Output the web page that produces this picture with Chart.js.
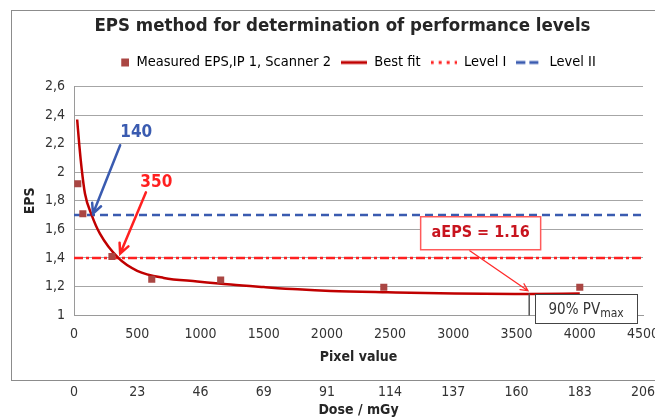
<!DOCTYPE html>
<html>
<head>
<meta charset="utf-8">
<script src="https://cdn.jsdelivr.net/npm/chart.js@4.4.1/dist/chart.umd.min.js"></script>
<style>
  html, body { margin: 0; padding: 0; background: #fff; }
</style>
</head>
<body>
<canvas id="epsChart" width="655" height="420"></canvas>
<script>
// values
const pixelTicks = [0, 500, 1000, 1500, 2000, 2500, 3000, 3500, 4000, 4500];
const doseLabels = ["0", "23", "46", "69", "91", "114", "137", "160", "183", "206"];
const epsTicks = [1, 1.2, 1.4, 1.6, 1.8, 2, 2.2, 2.4, 2.6];

const measuredPV = [30, 70, 300, 615, 1160, 2450, 4000];
const measuredEPS = [1.92, 1.71, 1.41, 1.25, 1.245, 1.195, 1.195];

const fitPV = [25, 42, 60, 87, 140, 205, 350, 500, 710, 975, 1240, 1500, 1770, 2030, 2480, 3010, 3600, 4000];
const fitEPS = [2.37, 2.19, 2.03, 1.85, 1.70, 1.57, 1.40, 1.31, 1.26, 1.235, 1.213, 1.196, 1.18, 1.169, 1.159, 1.15, 1.148, 1.15];

const levelI = 1.4;
const levelII = 1.7;
const levelSpan = [0, 4500];

// callouts, in data units (pixel value, EPS)
const callTexts = ["140", "350"];
const callTextAt = [[492, 2.28], [651, 1.93]];
const callTails = [[365, 2.19], [569, 1.86]];
const callTips = [[150, 1.71], [365, 1.43]];
const callColors = ["#3a5bb0", "#ff2020"];

const aepsText = "aEPS = 1.16";
const aepsBoxAt = [3216, 1.573];
const aepsTail = [3130, 1.45];
const aepsTip = [3590, 1.17];
const pvMaxAt = 3600;
const pvMaxEPS = 1.148;
const pvBoxAt = [4050, 1.044];

const FONT = "'DejaVu Sans Condensed', 'DejaVu Sans', sans-serif";
Chart.defaults.font.family = FONT;
Chart.defaults.color = "#333";

const pts = (xs, ys) => xs.map((x, i) => ({ x, y: ys[i] }));

function legendIcon(kind, color) {
  const c = document.createElement("canvas");
  c.width = 26;
  c.height = 10;
  const g = c.getContext("2d");
  if (kind === "square") {
    g.fillStyle = color;
    g.fillRect(18, 1, 8, 8);
  } else {
    g.strokeStyle = color;
    g.lineWidth = 3;
    if (kind === "dot") g.setLineDash([3, 5]);
    if (kind === "dash") g.setLineDash([9, 4]);
    g.beginPath();
    g.moveTo(0, 5);
    g.lineTo(26, 5);
    g.stroke();
  }
  return c;
}

const icons = [
  legendIcon("square", "#aa4643"),
  legendIcon("line", "#c00000"),
  legendIcon("dot", "#ff2020"),
  legendIcon("dash", "#3a5bb0")
];

const framePlugin = {
  id: "frame",
  afterLayout(chart) {
    // the original frame is wider than the picture, so title and legend sit right of centre
    const t = chart.titleBlock;
    t.left += 15;
    t.right += 15;
    const l = chart.legend;
    l.left += 22;
    l.right += 22;
  },
  beforeDraw(chart) {
    const c = chart.ctx;
    const bottom = chart.scales.x.bottom;
    c.save();
    c.fillStyle = "#fff";
    c.fillRect(0, 0, chart.width, chart.height);
    c.strokeStyle = "#8c8c8c";
    c.lineWidth = 1;
    c.strokeRect(11.5, 10.5, chart.width + 20, Math.round(bottom) - 10);
    c.restore();
  }
};

function arrow(c, x1, y1, x2, y2, color, w, head) {
  const a = Math.atan2(y2 - y1, x2 - x1);
  c.strokeStyle = color;
  c.lineWidth = w;
  c.lineCap = "round";
  c.beginPath();
  c.moveTo(x1, y1);
  c.lineTo(x2, y2);
  c.moveTo(x2 - head * Math.cos(a - 0.45), y2 - head * Math.sin(a - 0.45));
  c.lineTo(x2, y2);
  c.lineTo(x2 - head * Math.cos(a + 0.45), y2 - head * Math.sin(a + 0.45));
  c.stroke();
}

const notesPlugin = {
  id: "notes",
  afterDraw(chart) {
    const c = chart.ctx;
    const xs = chart.scales.x, ys = chart.scales.y;
    const px = v => xs.getPixelForValue(v);
    const py = v => ys.getPixelForValue(v);
    c.save();

    callTexts.forEach((t, i) => {
      arrow(c, px(callTails[i][0]), py(callTails[i][1]), px(callTips[i][0]), py(callTips[i][1]), callColors[i], 2.5, 11);
      c.fillStyle = callColors[i];
      c.font = "bold 17px " + FONT;
      c.textAlign = "center";
      c.textBaseline = "middle";
      c.fillText(t, px(callTextAt[i][0]), py(callTextAt[i][1]));
    });

    // 90% PVmax marker
    c.strokeStyle = "#555";
    c.lineWidth = 1.5;
    c.beginPath();
    c.moveTo(px(pvMaxAt), py(pvMaxEPS));
    c.lineTo(px(pvMaxAt), py(1));
    c.stroke();

    const bx = px(pvBoxAt[0]), by = py(pvBoxAt[1]);
    c.fillStyle = "#fff";
    c.fillRect(bx - 51, by - 14.5, 102, 29);
    c.strokeStyle = "#444";
    c.lineWidth = 1;
    c.strokeRect(Math.round(bx - 51) + 0.5, Math.round(by - 14.5) + 0.5, 102, 29);
    c.fillStyle = "#333";
    c.textBaseline = "alphabetic";
    c.textAlign = "left";
    const main = "90% PV";
    c.font = "15px " + FONT;
    const w1 = c.measureText(main).width;
    c.font = "12px " + FONT;
    const w2 = c.measureText("max").width;
    const sx = bx - (w1 + w2) / 2;
    c.font = "15px " + FONT;
    c.fillText(main, sx, by + 5);
    c.font = "12px " + FONT;
    c.fillText("max", sx + w1, by + 8);

    // aEPS callout
    arrow(c, px(aepsTail[0]), py(aepsTail[1]), px(aepsTip[0]), py(aepsTip[1]), "#ff2a2a", 1.3, 8);
    const ax = px(aepsBoxAt[0]), ay = py(aepsBoxAt[1]);
    c.fillStyle = "#fff";
    c.fillRect(ax - 60, ay - 16.5, 120, 33);
    c.strokeStyle = "#ff5a5a";
    c.lineWidth = 1.5;
    c.strokeRect(ax - 60, ay - 16.5, 120, 33);
    c.fillStyle = "#c8141e";
    c.font = "bold 16px " + FONT;
    c.textAlign = "center";
    c.textBaseline = "middle";
    c.fillText(aepsText, ax, ay);

    c.restore();
  }
};

const setTicks = list => scale => { scale.ticks = list.map(v => ({ value: v })); };

const chart = new Chart(document.getElementById("epsChart"), {
  type: "scatter",
  data: {
    datasets: [
      {
        label: "Measured EPS,IP 1, Scanner 2",
        data: pts(measuredPV, measuredEPS),
        pointStyle: "rect",
        pointRadius: 5,
        backgroundColor: "#aa4643",
        borderColor: "#aa4643",
        borderWidth: 0,
        showLine: false,
        order: 0
      },
      {
        label: "Best fit",
        type: "line",
        data: pts(fitPV, fitEPS),
        borderColor: "#c00000",
        borderWidth: 2.5,
        pointRadius: 0,
        cubicInterpolationMode: "monotone",
        fill: false,
        order: 1
      },
      {
        label: "Level I",
        type: "line",
        data: levelSpan.map(x => ({ x, y: levelI })),
        borderColor: "#ff2020",
        borderWidth: 2.5,
        borderDash: [9, 3, 3, 3],
        pointRadius: 0,
        fill: false,
        order: 2
      },
      {
        label: "Level II",
        type: "line",
        data: levelSpan.map(x => ({ x, y: levelII })),
        borderColor: "#3a5bb0",
        borderWidth: 2.5,
        borderDash: [8, 5],
        pointRadius: 0,
        fill: false,
        order: 2
      }
    ]
  },
  options: {
    responsive: false,
    animation: false,
    layout: { padding: { left: 12, right: 12, top: 0, bottom: 0 } },
    plugins: {
      tooltip: { enabled: false },
      title: {
        display: true,
        text: "EPS method for determination of performance levels",
        color: "#262626",
        font: { size: 18.5, weight: "bold" },
        padding: { top: 15, bottom: 8 }
      },
      legend: {
        labels: {
          usePointStyle: true,
          pointStyleWidth: 26,
          padding: 10,
          color: "#333",
          font: { size: 14.5 },
          generateLabels: ch => ch.data.datasets.map((d, i) => ({
            text: d.label,
            pointStyle: icons[i],
            fillStyle: "transparent",
            strokeStyle: "transparent",
            lineWidth: 0,
            datasetIndex: i,
            hidden: false
          }))
        }
      }
    },
    scales: {
      gap: {
        type: "linear",
        position: "top",
        ticks: { display: false },
        grid: { display: false, drawTicks: false },
        border: { display: false },
        afterFit: s => { s.height = 7; }
      },
      x: {
        type: "linear",
        position: "bottom",
        weight: 0,
        min: 0,
        max: 4500,
        afterBuildTicks: setTicks(pixelTicks),
        afterFit: s => { s.paddingRight = 0; s.height = 65; },
        grid: { display: false, drawTicks: false },
        border: { color: "#9a9a9a", width: 1 },
        ticks: { padding: 11, font: { size: 14 }, color: "#333", maxRotation: 0, autoSkip: false, callback: v => String(v) },
        title: { display: true, text: "Pixel value", color: "#262626", font: { size: 14, weight: "bold" }, padding: { top: 0, bottom: 14.5 } }
      },
      x2: {
        type: "linear",
        position: "bottom",
        weight: 1,
        min: 0,
        max: 4500,
        afterBuildTicks: setTicks(pixelTicks),
        afterFit: s => { s.paddingRight = 0; s.height = 40; },
        grid: { display: false, drawTicks: false },
        border: { display: false },
        ticks: { padding: 4, font: { size: 14 }, color: "#333", maxRotation: 0, autoSkip: false, callback: (v, i) => doseLabels[i] },
        title: { display: true, text: "Dose / mGy", color: "#262626", font: { size: 14, weight: "bold" }, padding: { top: 0, bottom: 1.5 } }
      },
      y: {
        type: "linear",
        min: 1,
        max: 2.6,
        afterBuildTicks: setTicks(epsTicks),
        afterFit: s => { s.width = 62; },
        grid: { color: "#a6a6a6", lineWidth: 1, drawTicks: false },
        border: { color: "#9a9a9a", width: 1 },
        ticks: { padding: 9, font: { size: 14 }, color: "#333", callback: v => String(+v.toFixed(1)).replace(".", ",") },
        title: { display: true, text: "EPS", color: "#262626", font: { size: 14, weight: "bold" }, padding: { top: 10, bottom: 0 } }
      }
    }
  },
  plugins: [framePlugin, notesPlugin]
});
</script>
</body>
</html>
